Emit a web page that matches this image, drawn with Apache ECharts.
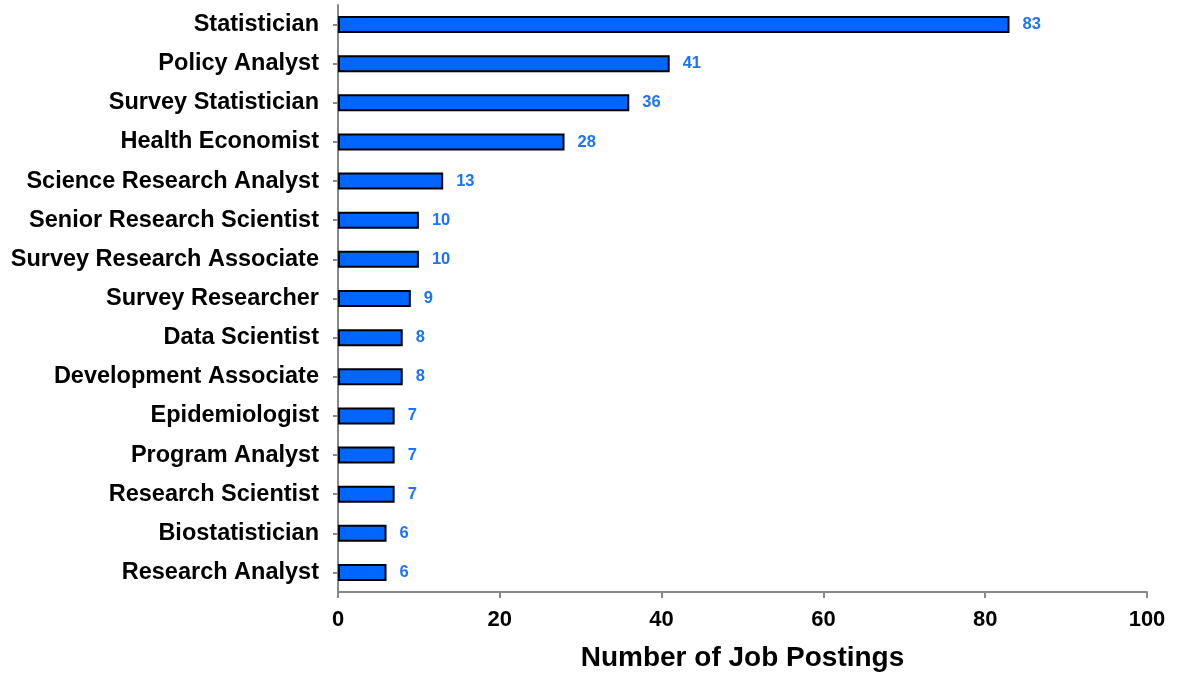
<!DOCTYPE html>
<html>
<head>
<meta charset="utf-8">
<script src="https://cdn.jsdelivr.net/npm/echarts@6/dist/echarts.min.js"></script>
<style>html,body{margin:0;padding:0;background:#fff}#c{width:1181px;height:673px}</style>
</head>
<body>
<div id="c"></div>
<script>
const categories = ["Statistician","Policy Analyst","Survey Statistician","Health Economist","Science Research Analyst","Senior Research Scientist","Survey Research Associate","Survey Researcher","Data Scientist","Development Associate","Epidemiologist","Program Analyst","Research Scientist","Biostatistician","Research Analyst"];
const postings = [83,41,36,28,13,10,10,9,8,8,7,7,7,6,6];
const xTicks = [0,20,40,60,80,100];
const xTitle = "Number of Job Postings";

const chart = echarts.init(document.getElementById('c'), null, {renderer:'canvas'});
chart.setOption({
  animation:false,
  backgroundColor:'#fff',
  grid:{left:338,right:34,top:5,bottom:81,containLabel:false,outerBoundsMode:'none'},
  xAxis:{
    type:'value',min:xTicks[0],max:xTicks[xTicks.length-1],interval:20,
    name:xTitle,nameLocation:'middle',nameGap:52,
    nameTextStyle:{fontFamily:'Liberation Sans, Arial',fontWeight:'bold',fontSize:28,color:'#000'},
    axisLine:{show:true,lineStyle:{color:'#888',width:2}},
    axisTick:{show:true,length:6,lineStyle:{color:'#888',width:2}},
    axisLabel:{fontFamily:'Liberation Sans, Arial',fontWeight:'bold',fontSize:22,color:'#000',margin:17},
    splitLine:{show:false}
  },
  yAxis:{
    type:'category',inverse:true,data:categories,
    axisLine:{show:true,lineStyle:{color:'#888',width:2}},
    axisTick:{show:true,alignWithLabel:true,length:5,lineStyle:{color:'#888',width:2}},
    axisLabel:{fontFamily:'Liberation Sans, Arial',fontWeight:'bold',fontSize:23.5,color:'#000',margin:19}
  },
  series:[{
    type:'bar',data:postings,barWidth:17,
    itemStyle:{color:'#0066ff',borderColor:'#000',borderWidth:2},
    label:{show:true,position:'right',distance:13,fontFamily:'Liberation Sans, Arial',fontWeight:'bold',fontSize:16.5,color:'#1a72ff'}
  }]
});
</script>
</body>
</html>
